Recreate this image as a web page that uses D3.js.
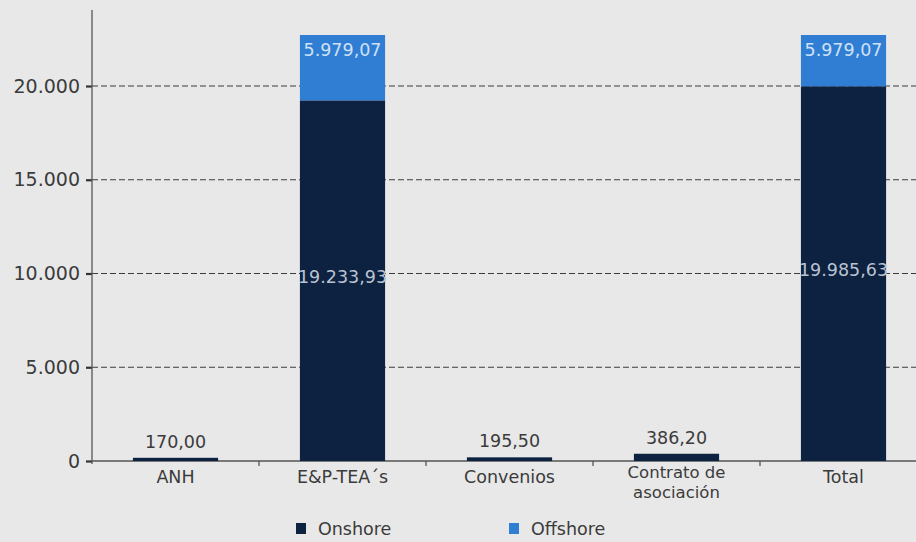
<!DOCTYPE html>
<html>
<head>
<meta charset="utf-8">
<script src="https://cdn.jsdelivr.net/npm/d3@7"></script>
<style>
  html, body { margin: 0; padding: 0; background: #e8e8e8; }
  svg { display: block; }
</style>
</head>
<body>
<svg id="chart" width="916" height="542"></svg>
<script>
// ---- data ----
const categories = ["ANH", "E&P-TEA´s", "Convenios", "Contrato de\nasociación", "Total"];
const onshore = [170.00, 19233.93, 195.50, 386.20, 19985.63];
const offshore = [0, 5979.07, 0, 0, 5979.07];
const yTicks = [0, 5000, 10000, 15000, 20000];
const seriesNames = ["Onshore", "Offshore"];

// ---- setup ----
const W = 916, H = 542;
const colors = { Onshore: "#0d2140", Offshore: "#2f7ed4" };
const textColor = "#3b3b3b";
const font = "'DejaVu Sans', Verdana, sans-serif";

const es = d3.formatLocale({ decimal: ",", thousands: ".", grouping: [3], currency: ["$", ""] });
const fmtVal = es.format(",.2f");
const fmtTick = es.format(",.0f");

const svg = d3.select("#chart");
svg.append("rect").attr("width", W).attr("height", H).attr("fill", "#e8e8e8");

const x = d3.scaleBand().domain(categories).range([92, 927]).paddingInner(0.49).paddingOuter(0.245);
const y = d3.scaleLinear().domain([0, 24000]).range([461, 11]);
const clipTop = 35;

// gridlines
svg.append("g").selectAll("line").data(yTicks.filter(d => d > 0)).join("line")
  .attr("x1", 92).attr("x2", W)
  .attr("y1", d => y(d)).attr("y2", d => y(d))
  .attr("stroke", "#3c3c3c").attr("stroke-width", 1.2).attr("stroke-dasharray", "6,3");

// y axis
const yAxis = d3.axisLeft(y).tickValues(yTicks).tickFormat(fmtTick).tickSize(6).tickPadding(6);
const gy = svg.append("g").attr("transform", "translate(92,0)").call(yAxis);
gy.select(".domain").remove();
gy.append("line").attr("x1", 0).attr("x2", 0).attr("y1", 10).attr("y2", 464)
  .attr("stroke", "#555").attr("stroke-width", 1.3);
gy.selectAll(".tick line").attr("stroke", "#333").attr("stroke-width", 2.2);
gy.selectAll(".tick text").attr("fill", textColor).attr("font-family", font).attr("font-size", 19);

// x axis
const boundaries = categories.slice(1).map(c => x(c) - x.step() * x.paddingInner() / 2);
svg.append("line").attr("x1", 92).attr("x2", W).attr("y1", y(0)).attr("y2", y(0))
  .attr("stroke", "#555").attr("stroke-width", 1.3);
svg.append("g").selectAll("line").data(boundaries).join("line")
  .attr("x1", d => d).attr("x2", d => d).attr("y1", y(0)).attr("y2", y(0) + 5)
  .attr("stroke", "#555").attr("stroke-width", 1.3);

// x labels (one text element per line)
const xlg = svg.append("g").attr("text-anchor", "middle").attr("fill", textColor).attr("font-family", font);
categories.forEach(d => {
  const lines = d.split("\n");
  lines.forEach((ln, i) => {
    xlg.append("text").attr("x", x(d) + x.bandwidth() / 2)
      .attr("y", lines.length > 1 ? 478 + i * 19.5 : 483)
      .attr("font-size", lines.length > 1 ? 16.5 : 17.5)
      .text(ln);
  });
});

// clip
svg.append("clipPath").attr("id", "plotclip").append("rect")
  .attr("x", 92).attr("y", clipTop).attr("width", W).attr("height", 470 - clipTop);

// stacked bars
const rows = categories.map((c, i) => ({ cat: c, Onshore: onshore[i], Offshore: offshore[i] }));
const stack = d3.stack().keys(seriesNames)(rows);
const bars = svg.append("g").attr("clip-path", "url(#plotclip)");
stack.forEach(layer => {
  bars.append("g").attr("fill", colors[layer.key]).selectAll("rect")
    .data(layer.filter(d => d[1] - d[0] > 0)).join("rect")
    .attr("x", d => x(d.data.cat)).attr("width", x.bandwidth())
    .attr("y", d => y(d[1])).attr("height", d => y(d[0]) - y(d[1]));
});

// value labels
const lab = svg.append("g").attr("font-family", font).attr("font-size", 17.5).attr("text-anchor", "middle");
rows.forEach(r => {
  const cx = x(r.cat) + x.bandwidth() / 2;
  const hOn = y(0) - y(r.Onshore);
  if (hOn > 40) {
    lab.append("text").attr("x", cx).attr("y", (y(0) + y(r.Onshore)) / 2 + 2)
      .attr("fill", "#b9c3d2").text(fmtVal(r.Onshore));
  } else {
    lab.append("text").attr("x", cx).attr("y", y(r.Onshore) - 10)
      .attr("fill", textColor).text(fmtVal(r.Onshore));
  }
  if (r.Offshore > 0) {
    const top = Math.max(y(r.Onshore + r.Offshore), clipTop);
    lab.append("text").attr("x", cx).attr("y", top + 21)
      .attr("fill", "#cfe1f6").text(fmtVal(r.Offshore));
  }
});

// legend
const legendX = [296, 509];
const lg = svg.append("g").attr("font-family", font).attr("font-size", 17.5);
seriesNames.forEach((s, i) => {
  lg.append("rect").attr("x", legendX[i]).attr("y", 523).attr("width", 10).attr("height", 11)
    .attr("fill", colors[s]);
  lg.append("text").attr("x", legendX[i] + 22).attr("y", 535).attr("fill", textColor).text(s);
});
</script>
</body>
</html>
